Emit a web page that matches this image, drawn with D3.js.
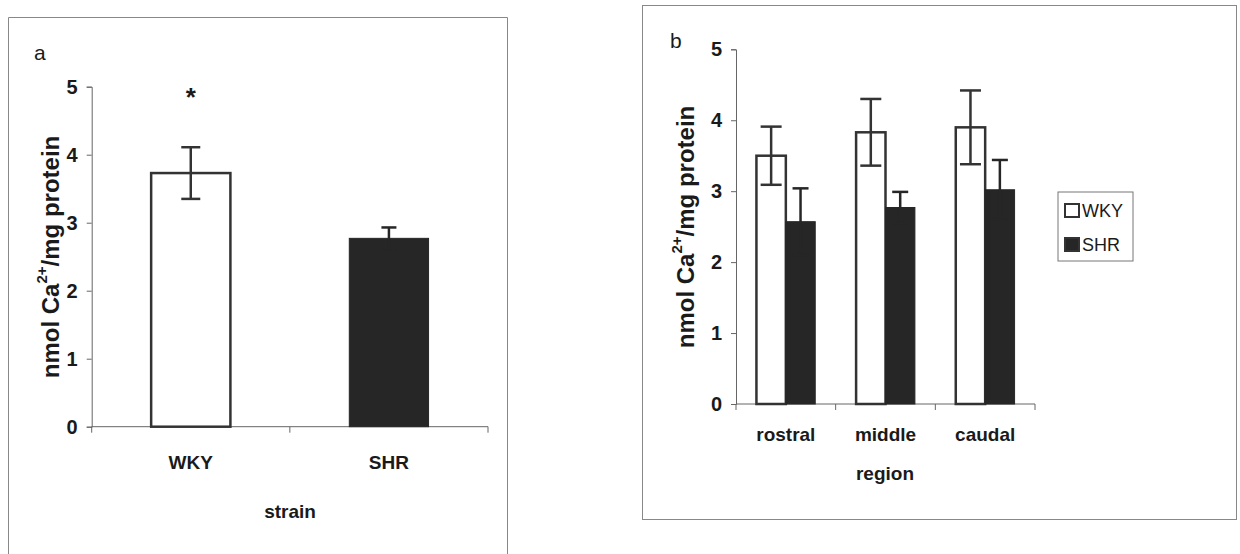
<!DOCTYPE html>
<html>
<head>
<meta charset="utf-8">
<script src="https://cdn.jsdelivr.net/npm/d3@7"></script>
<style>
  body { margin: 0; background: #fff; }
  text { font-family: "Liberation Sans", Arial, sans-serif; fill: #1a1a1a; }
</style>
</head>
<body>
<div id="main"></div>
<script>
/// data ///
const strains = ['WKY', 'SHR'];
const strainMeans = [3.73, 2.77];
const strainErr = [0.38, 0.16];

const regions = ['rostral', 'middle', 'caudal'];
const wkyMeans = [3.50, 3.83, 3.90];
const wkyErr = [0.41, 0.47, 0.52];
const shrMeans = [2.57, 2.77, 3.02];
const shrErr = [0.47, 0.22, 0.42];

const groups = ['WKY', 'SHR'];
const yTicks = [0, 1, 2, 3, 4, 5];

const w = 1240;
const h = 554;
const dark = '#262626';
const axisCol = '#666';

const svg = d3.select('#main')
    .append('svg')
    .attr('width', w)
    .attr('height', h);

// panel frames
svg.append('path')
    .attr('d', 'M8.5,554 V17.5 H507.5 V554')
    .attr('fill', 'none').attr('stroke', '#888').attr('stroke-width', 1);
svg.append('rect')
    .attr('x', 642.5).attr('y', 5.5).attr('width', 594).attr('height', 514)
    .attr('fill', 'none').attr('stroke', '#888').attr('stroke-width', 1);

// draws y axis + x baseline with boundary ticks
function drawAxes(g, x, y, x0, x1) {
    const yAxis = d3.axisLeft(y).tickValues(yTicks).tickSize(5).tickPadding(9).tickFormat(d3.format('d'));
    const ya = g.append('g').attr('transform', `translate(${x0},0)`).call(yAxis);
    ya.select('.domain').attr('stroke', axisCol);
    ya.selectAll('.tick line').attr('stroke', axisCol);
    ya.selectAll('.tick text')
        .style('font-size', '20px').style('font-weight', 'bold')
        .attr('fill', '#1a1a1a');

    // x baseline
    g.append('line')
        .attr('x1', x0).attr('x2', x1)
        .attr('y1', y(0)).attr('y2', y(0))
        .attr('stroke', axisCol);
    // ticks at category boundaries
    const bounds = x.domain().map(d => x(d) + x0).concat([x1]);
    g.selectAll('.xtick')
        .data(bounds)
        .enter()
        .append('line')
        .attr('class', 'xtick')
        .attr('x1', d => d).attr('x2', d => d)
        .attr('y1', y(0)).attr('y2', y(0) + 6)
        .attr('stroke', axisCol);
}

function errBar(g, cx, top, bot, cap, col) {
    g.append('line').attr('x1', cx).attr('x2', cx).attr('y1', top).attr('y2', bot)
        .attr('stroke', col).attr('stroke-width', 2.5);
    [top, bot].forEach(v => {
        g.append('line').attr('x1', cx - cap / 2).attr('x2', cx + cap / 2)
            .attr('y1', v).attr('y2', v)
            .attr('stroke', col).attr('stroke-width', 2.5);
    });
}

function yLabel(g, cx, cy) {
    const t = g.append('text')
        .attr('transform', `translate(${cx},${cy}) rotate(-90)`)
        .attr('text-anchor', 'middle')
        .attr('dominant-baseline', 'central')
        .style('font-size', '24px')
        .style('font-weight', 'bold');
    t.append('tspan').text('nmol Ca');
    t.append('tspan').attr('dy', -9).style('font-size', '15px').text('2+');
    t.append('tspan').attr('dy', 9).text('/mg protein');
}

/// panel a ///
const ga = svg.append('g');
const ax0 = 91.7, ax1 = 488;
const xa = d3.scaleBand().domain(strains).range([0, ax1 - ax0]);
const ya = d3.scaleLinear().domain([0, 5]).range([426.7, 86.7]);
drawAxes(ga, xa, ya, ax0, ax1);

const barWa = xa.bandwidth() * 0.4;
strains.forEach((s, i) => {
    const cx = ax0 + xa(s) + xa.bandwidth() / 2;
    const isW = i === 0;
    ga.append('rect')
        .attr('x', cx - barWa / 2)
        .attr('y', ya(strainMeans[i]))
        .attr('width', barWa)
        .attr('height', ya(0) - ya(strainMeans[i]))
        .attr('fill', isW ? '#fff' : dark)
        .attr('stroke', isW ? '#333' : dark)
        .attr('stroke-width', isW ? 2.5 : 1);
    errBar(ga, cx, ya(strainMeans[i] + strainErr[i]), ya(strainMeans[i] - strainErr[i]), isW ? 19 : 15, isW ? '#333' : dark);
    ga.append('text')
        .attr('x', cx).attr('y', 469)
        .attr('text-anchor', 'middle')
        .style('font-size', '19px').style('font-weight', 'bold')
        .text(s);
});
// significance mark
ga.append('text')
    .attr('x', ax0 + xa('WKY') + xa.bandwidth() / 2).attr('y', 106)
    .attr('text-anchor', 'middle')
    .style('font-size', '26px').style('font-weight', 'bold')
    .text('*');

ga.append('text').attr('x', 290).attr('y', 518).attr('text-anchor', 'middle')
    .style('font-size', '19px').style('font-weight', 'bold').text('strain');
ga.append('text').attr('x', 34).attr('y', 60)
    .style('font-size', '21px').text('a');
yLabel(ga, 50, 257);

/// panel b ///
const gb = svg.append('g');
const bx0 = 736, bx1 = 1035;
const xb = d3.scaleBand().domain(regions).range([0, bx1 - bx0]);
const yb = d3.scaleLinear().domain([0, 5]).range([404, 49.3]);
const xsub = d3.scaleBand().domain(groups).range([0, xb.bandwidth() * 0.59]);
drawAxes(gb, xb, yb, bx0, bx1);

const series = [
    { name: 'WKY', means: wkyMeans, err: wkyErr, fill: '#fff', cap: 21 },
    { name: 'SHR', means: shrMeans, err: shrErr, fill: dark, cap: 16 }
];

regions.forEach((r, i) => {
    const gx = bx0 + xb(r) + (xb.bandwidth() - xsub.range()[1]) / 2;
    series.forEach(s => {
        const x = gx + xsub(s.name);
        const isW = s.name === 'WKY';
        gb.append('rect')
            .attr('x', x).attr('y', yb(s.means[i]))
            .attr('width', xsub.bandwidth())
            .attr('height', yb(0) - yb(s.means[i]))
            .attr('fill', s.fill)
            .attr('stroke', isW ? '#333' : dark)
            .attr('stroke-width', isW ? 2.5 : 1);
    });
    series.forEach(s => {
        const cx = gx + xsub(s.name) + xsub.bandwidth() / 2;
        errBar(gb, cx, yb(s.means[i] + s.err[i]), yb(s.means[i] - s.err[i]), s.cap,
            s.name === 'WKY' ? '#333' : dark);
    });
    gb.append('text')
        .attr('x', bx0 + xb(r) + xb.bandwidth() / 2).attr('y', 441)
        .attr('text-anchor', 'middle')
        .style('font-size', '19px').style('font-weight', 'bold')
        .text(r);
});

gb.append('text').attr('x', 885).attr('y', 480).attr('text-anchor', 'middle')
    .style('font-size', '19px').style('font-weight', 'bold').text('region');
gb.append('text').attr('x', 670).attr('y', 48)
    .style('font-size', '21px').text('b');
yLabel(gb, 685, 227);

// legend
const lg = gb.append('g').attr('transform', 'translate(1058,192)');
lg.append('rect').attr('width', 75).attr('height', 69)
    .attr('fill', '#fff').attr('stroke', '#777');
series.forEach((s, i) => {
    lg.append('rect')
        .attr('x', 7).attr('y', 12 + i * 34)
        .attr('width', 14).attr('height', 13)
        .attr('fill', s.fill)
        .attr('stroke', '#333').attr('stroke-width', 2);
    lg.append('text')
        .attr('x', 24).attr('y', 19 + i * 34)
        .attr('dominant-baseline', 'central')
        .style('font-size', '18px')
        .text(s.name);
});
</script>
</body>
</html>
